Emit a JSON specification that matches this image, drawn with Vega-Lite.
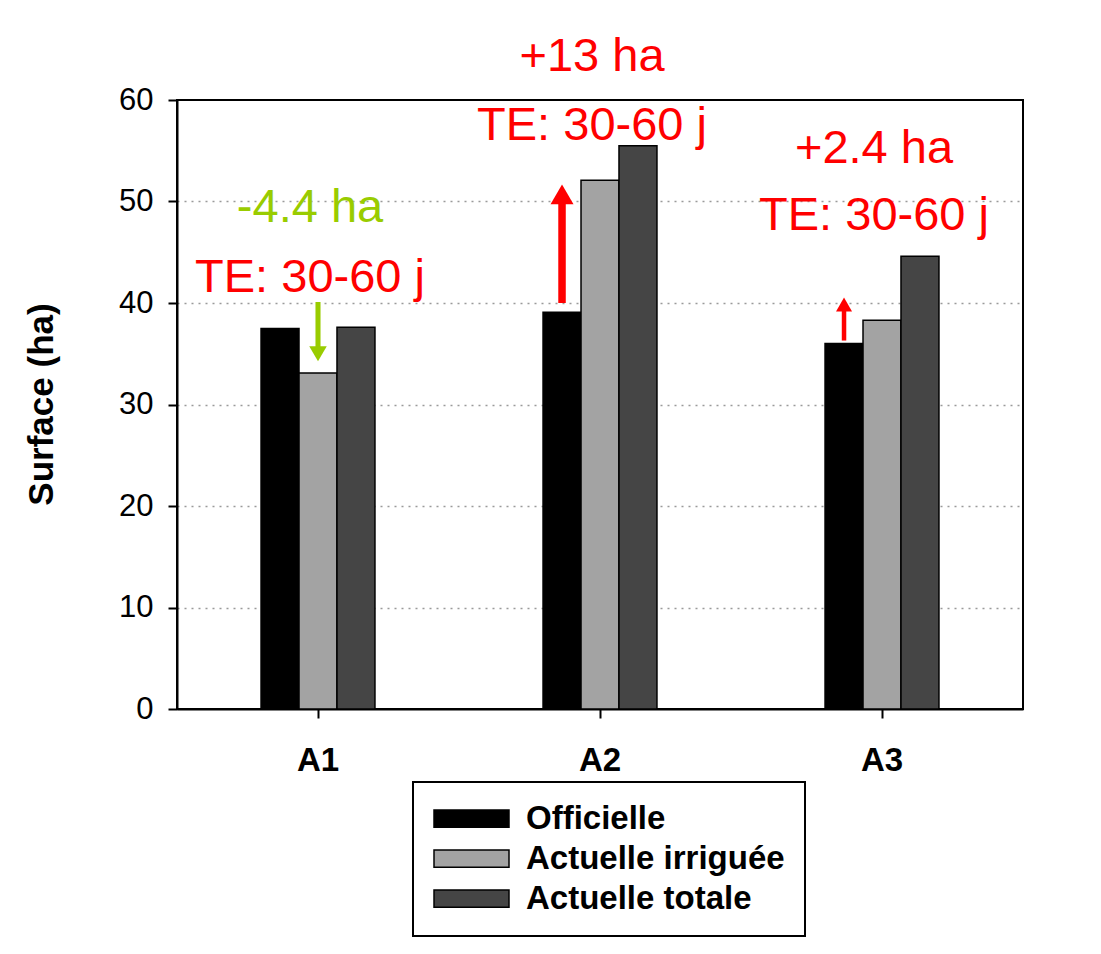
{
  "$schema": "https://vega.github.io/schema/vega-lite/v6.json",
  "width": 846,
  "height": 609,
  "autosize": {"type": "none"},
  "padding": {"left": 177, "top": 100, "right": 78, "bottom": 245},
  "background": "white",
  "config": {
    "font": "Liberation Sans",
    "view": {"stroke": "black", "strokeWidth": 2},
    "legend": {
      "orient": "none",
      "legendX": 236,
      "legendY": 682,
      "title": null,
      "symbolType": "M-1,-0.23H1V0.23H-1Z",
      "symbolSize": 5625,
      "symbolStrokeColor": "black",
      "symbolStrokeWidth": 1.5,
      "symbolOpacity": 1,
      "labelFont": "Liberation Sans",
      "labelFontSize": 33,
      "labelFontWeight": "bold",
      "labelColor": "black",
      "labelOffset": 16,
      "labelLimit": 0,
      "clipHeight": 33,
      "rowPadding": 6,
      "padding": 20,
      "strokeColor": "black",
      "strokeWidth": 2,
      "fillColor": "white"
    }
  },
  "datasets": {
    "bars": [
      {"zone": "A1", "serie": "Officielle", "surface": 37.5},
      {"zone": "A1", "serie": "Actuelle irriguée", "surface": 33.1},
      {"zone": "A1", "serie": "Actuelle totale", "surface": 37.6},
      {"zone": "A2", "serie": "Officielle", "surface": 39.1},
      {"zone": "A2", "serie": "Actuelle irriguée", "surface": 52.1},
      {"zone": "A2", "serie": "Actuelle totale", "surface": 55.5},
      {"zone": "A3", "serie": "Officielle", "surface": 36.0},
      {"zone": "A3", "serie": "Actuelle irriguée", "surface": 38.3},
      {"zone": "A3", "serie": "Actuelle totale", "surface": 44.6}
    ],
    "notes": [
      {"zone": "A1", "pos": 49.4, "texte": "-4.4 ha", "type": "baisse"},
      {"zone": "A1", "pos": 42.5, "texte": "TE: 30-60 j", "type": "TE"},
      {"zone": "A2", "pos": 64.2, "texte": "+13 ha", "type": "hausse"},
      {"zone": "A2", "pos": 57.4, "texte": "TE: 30-60 j", "type": "TE"},
      {"zone": "A3", "pos": 55.2, "texte": "+2.4 ha", "type": "hausse"},
      {"zone": "A3", "pos": 48.6, "texte": "TE: 30-60 j", "type": "TE"}
    ],
    "arrows": [
      {"zone": "A1", "serie": "Actuelle irriguée", "debut": 40.1, "fin": 35.0, "ecart": 4.4, "type": "baisse"},
      {"zone": "A2", "serie": "Officielle", "debut": 40.0, "fin": 50.7, "ecart": 13, "type": "hausse"},
      {"zone": "A3", "serie": "Officielle", "debut": 36.3, "fin": 39.85, "ecart": 2.4, "type": "hausse"}
    ]
  },
  "layer": [
    {
      "data": {"name": "bars"},
      "mark": {"type": "bar", "stroke": "black", "strokeWidth": 1.5, "opacity": 1},
      "encoding": {
        "x": {
          "field": "zone", "type": "nominal", "title": null,
          "scale": {"domain": ["A1", "A2", "A3"], "paddingInner": 0.596, "paddingOuter": 0.298},
          "axis": {
            "title": null, "labelAngle": 0, "labelFont": "Liberation Sans", "labelFontSize": 33,
            "labelFontWeight": "bold", "labelColor": "black", "labelPadding": 26,
            "tickSize": 9, "tickWidth": 2, "tickColor": "black",
            "domainColor": "black", "domainWidth": 2, "grid": false
          }
        },
        "xOffset": {
          "field": "serie", "type": "nominal",
          "scale": {"domain": ["Officielle", "Actuelle irriguée", "Actuelle totale"], "paddingInner": 0, "paddingOuter": 0}
        },
        "y": {
          "field": "surface", "type": "quantitative", "title": "Surface (ha)",
          "scale": {"domain": [0, 60], "nice": false, "zero": true},
          "axis": {
            "title": "Surface (ha)", "values": [0, 10, 20, 30, 40, 50, 60],
            "labelFont": "Liberation Sans", "labelFontSize": 31, "labelColor": "black", "labelPadding": 15,
            "tickSize": 9, "tickWidth": 2, "tickColor": "black",
            "domainColor": "black", "domainWidth": 2,
            "grid": true, "gridDash": [2, 5], "gridColor": "#9a9a9a", "gridWidth": 1.5,
            "gridOpacity": {"condition": {"test": "datum.value >= 60 || datum.value <= 0", "value": 0}, "value": 1},
            "titleFont": "Liberation Sans", "titleFontSize": 35, "titleFontWeight": "bold", "titleColor": "black",
            "titleAngle": -90, "titleX": -136, "titleY": 304, "titleAlign": "center", "titleBaseline": "middle"
          }
        },
        "fill": {
          "field": "serie", "type": "nominal",
          "scale": {"domain": ["Officielle", "Actuelle irriguée", "Actuelle totale"], "range": ["#000000", "#a3a3a3", "#454545"]},
          "legend": {}
        }
      }
    },
    {
      "data": {"name": "arrows"},
      "mark": {"type": "rule", "strokeCap": "butt"},
      "encoding": {
        "x": {"field": "zone", "type": "nominal", "title": null},
        "xOffset": {"field": "serie", "type": "nominal"},
        "y": {"field": "debut", "type": "quantitative", "title": "Surface (ha)"},
        "y2": {"field": "fin"},
        "color": {
          "field": "type", "type": "nominal",
          "scale": {"domain": ["baisse", "hausse", "TE"], "range": ["#99cc00", "#ff0000", "#ff0000"]},
          "legend": null
        },
        "strokeWidth": {
          "field": "ecart", "type": "quantitative",
          "scale": {"domain": [2.4, 13], "range": [4.5, 7.5], "zero": false},
          "legend": null
        }
      }
    },
    {
      "data": {"name": "arrows"},
      "mark": {"type": "point", "filled": true, "opacity": 1, "strokeWidth": 0},
      "encoding": {
        "x": {"field": "zone", "type": "nominal", "title": null},
        "xOffset": {"field": "serie", "type": "nominal"},
        "y": {"field": "fin", "type": "quantitative", "title": "Surface (ha)"},
        "shape": {
          "field": "type", "type": "nominal",
          "scale": {"domain": ["baisse", "hausse"], "range": ["triangle-down", "triangle-up"]},
          "legend": null
        },
        "size": {
          "field": "ecart", "type": "quantitative",
          "scale": {"domain": [2.4, 13], "range": [256, 529], "zero": false},
          "legend": null
        },
        "color": {
          "field": "type", "type": "nominal",
          "scale": {"domain": ["baisse", "hausse", "TE"], "range": ["#99cc00", "#ff0000", "#ff0000"]},
          "legend": null
        }
      }
    },
    {
      "data": {"name": "notes"},
      "mark": {"type": "text", "font": "Liberation Sans", "fontSize": 47, "align": "center", "baseline": "middle", "dx": -8},
      "encoding": {
        "x": {"field": "zone", "type": "nominal", "title": null},
        "y": {"field": "pos", "type": "quantitative", "title": "Surface (ha)"},
        "text": {"field": "texte", "type": "nominal"},
        "color": {
          "field": "type", "type": "nominal",
          "scale": {"domain": ["baisse", "hausse", "TE"], "range": ["#99cc00", "#ff0000", "#ff0000"]},
          "legend": null
        }
      }
    }
  ]
}
